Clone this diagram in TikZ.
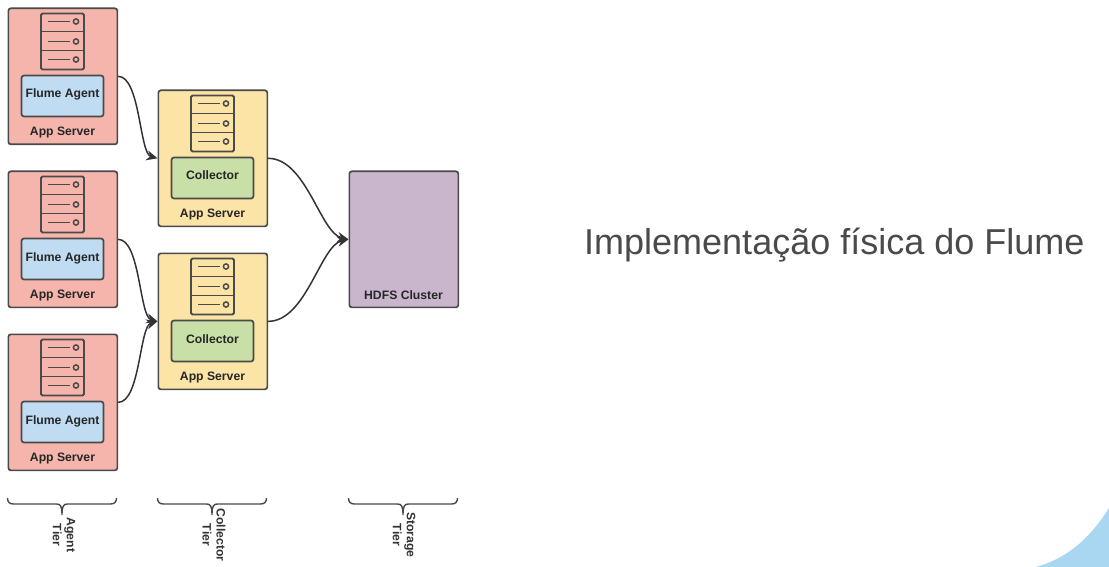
\documentclass[tikz,border=0pt]{standalone}
\usepackage{fontspec}
\setmainfont{Liberation Sans}
\definecolor{ln}{HTML}{4A4A4A}
\definecolor{redf}{HTML}{F5B5AC}
\definecolor{yelf}{HTML}{FCE4A6}
\definecolor{bluf}{HTML}{C0DCF2}
\definecolor{grnf}{HTML}{C8E0A8}
\definecolor{purf}{HTML}{C9B5CC}
\definecolor{corner}{HTML}{A9D6F0}
\definecolor{titlec}{HTML}{4A4A4A}
\tikzset{
  tier/.style={draw=ln,line width=1.7pt,rounded corners=2.5pt,minimum width=109pt,minimum height=136pt,inner sep=0pt,anchor=north west},
  inner/.style={draw=ln,line width=1.7pt,rounded corners=2.5pt,minimum width=82pt,minimum height=41pt,inner sep=0pt,text height=8pt,text depth=4pt,font=\bfseries\fontsize{12.2}{13}\selectfont,text=black!85},
  caption/.style={font=\bfseries\fontsize{12.2}{13}\selectfont,text=black!85,inner sep=0pt},
  rack/.style={draw=ln,line width=1.8pt,rounded corners=1.5pt},
  rackd/.style={draw=ln,line width=1.5pt},
  link/.style={draw=black!80,line width=1.5pt,-{Stealth[length=11pt,width=10pt]}},
  brace/.style={draw=ln,line width=1.4pt},
  tiertext/.style={font=\bfseries\fontsize{12.2}{14}\selectfont,text=black!80,rotate=-90,align=center,inner sep=0pt},
}
\newcommand{\srv}[6]{% name,x,y,fill,innerfill,text
  \node[tier,fill=#4] (#1) at (#2,#3) {};
  \begin{scope}[shift={(#2,#3)}]
    \draw[rack] (33.5,6) rectangle (76.5,62);
    \draw[rackd] (33.5,24) -- (76.5,24) (33.5,43) -- (76.5,43);
    \foreach \yy in {14,34,52}{
      \draw[rackd] (40.5,\yy) -- (62.5,\yy);
      \draw[rackd] (68.5,\yy) circle (2.6pt);
    }
    \node[inner,fill=#5] (#1i) at (55,88.5) {#6};
    \node[caption] (#1c) at (55,125) {App Server};
  \end{scope}
}
\newcommand{\brc}[2]{% name, left x
  \begin{scope}[shift={(#2,0)}]
    \draw[brace] (0,498) .. controls (0,502) and (2,504) .. (6,504) -- (49,504)
      .. controls (53,504) and (54.5,506) .. (54.5,515)
      .. controls (54.5,506) and (56,504) .. (60,504) -- (103,504)
      .. controls (107,504) and (109,502) .. (109,498);
  \end{scope}
}
\usetikzlibrary{arrows.meta}
\begin{document}
\begin{tikzpicture}[x=1pt,y=-1pt]
\useasboundingbox (0,0) rectangle (1109,567);
\fill[corner] (1036,567) .. controls (1068,558) and (1090,538) .. (1109,508) -- (1109,567) -- cycle;
\srv{aa}{7.5}{7.5}{redf}{bluf}{Flume Agent}
\srv{ab}{7.5}{170.5}{redf}{bluf}{Flume Agent}
\srv{ac}{7.5}{333.5}{redf}{bluf}{Flume Agent}
\srv{ca}{157.5}{89.5}{yelf}{grnf}{Collector}
\srv{cb}{157.5}{252.5}{yelf}{grnf}{Collector}
\node[tier,fill=purf] (hd) at (348.5,170.5) {};
\node[caption] (hdc) at (403.5,295.5) {HDFS Cluster};
\draw[link] (aa.east) .. controls +(22,0) and +(-18,-5) .. (ca.west);
\draw[link] (ab.east) .. controls +(22,0) and +(-18,-5) .. (cb.west);
\draw[link] (ac.east) .. controls +(22,0) and +(-18,5) .. (cb.west);
\draw[link] (ca.east) .. controls +(38,0) and +(-28,-6) .. (hd.west);
\draw[link] (cb.east) .. controls +(38,0) and +(-28,6) .. (hd.west);
\brc{ba}{7.5}
\brc{bb}{157.5}
\brc{bc}{348.5}
\node[tiertext] (ta) at (64,535) {Agent\\Tier};
\node[tiertext] (tb) at (214,535) {Collector\\Tier};
\node[tiertext] (tc) at (404,535) {Storage\\Tier};
\node[font=\fontsize{36}{40}\selectfont,text=titlec,anchor=base west,inner sep=0pt] (title) at (584,254) {Implementação física do Flume};
\end{tikzpicture}
\end{document}
